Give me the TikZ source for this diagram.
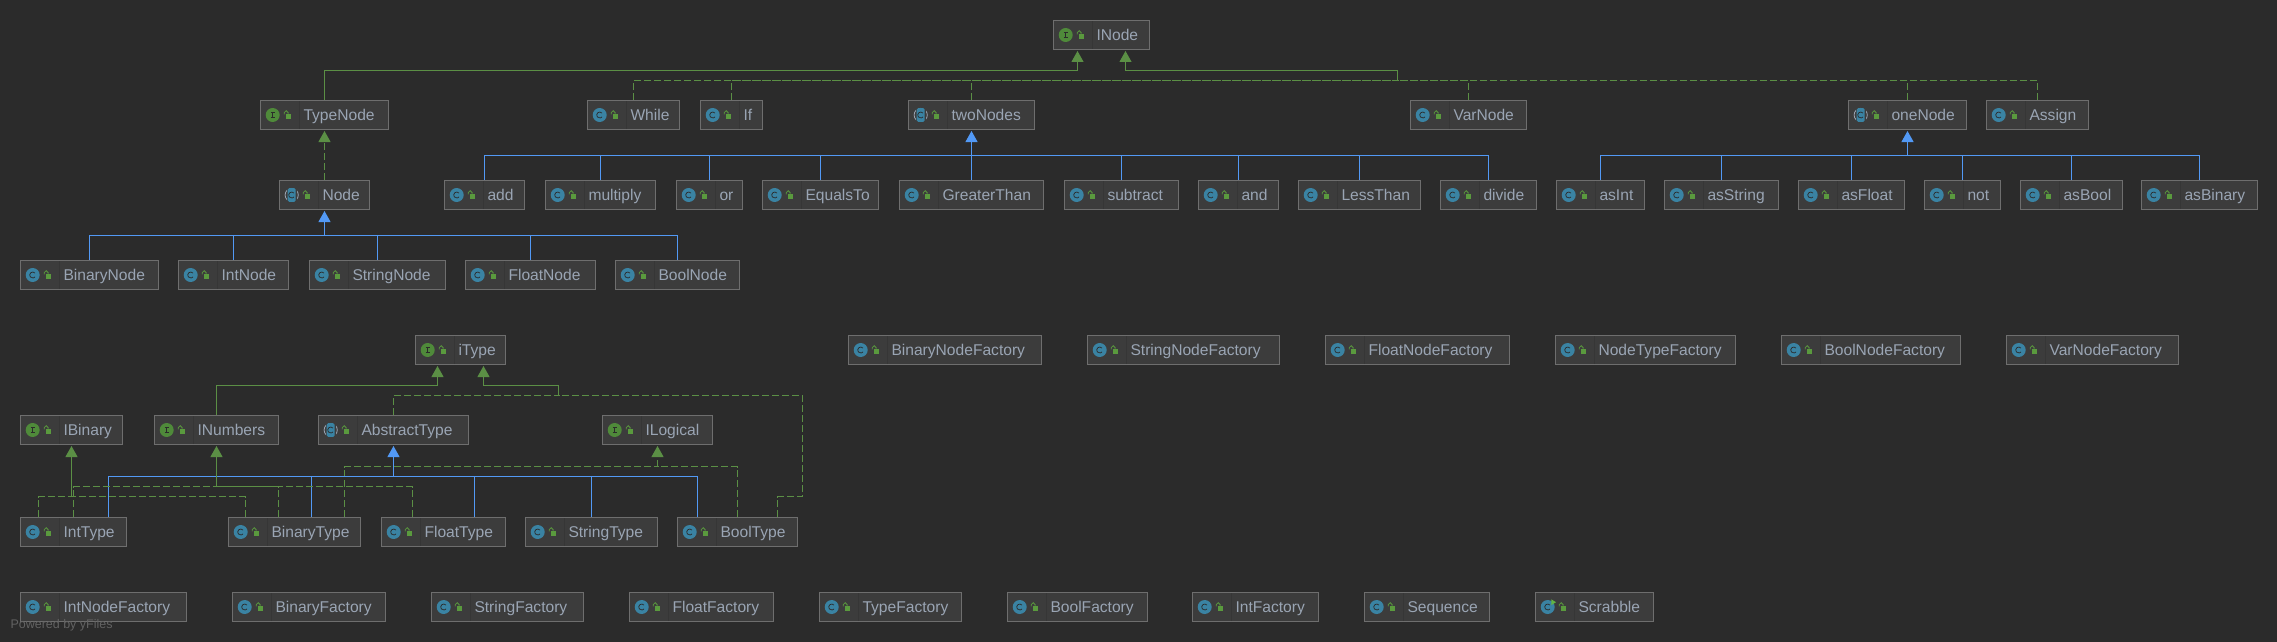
\documentclass[tikz,border=0pt]{standalone}
\usepackage{fontspec}
\setmainfont{Liberation Sans}
\usetikzlibrary{arrows.meta}

\definecolor{bgdark}{HTML}{2B2B2B}
\definecolor{boxfill}{HTML}{3C3C3C}
\definecolor{boxline}{HTML}{6E6E6E}
\definecolor{boxsep}{HTML}{363636}
\definecolor{labelgray}{HTML}{9AA5B4}
\definecolor{iconblue}{HTML}{3A83A3}
\definecolor{icongreen}{HTML}{4F8A3A}
\definecolor{lockgreen}{HTML}{5A9A3E}
\definecolor{rungreen}{HTML}{62B543}
\definecolor{linkgreen}{HTML}{5B8F45}
\definecolor{linkblue}{HTML}{5299F5}
\definecolor{yfilesgray}{HTML}{626262}

\tikzset{
    basebox/.style={draw=boxline,fill=boxfill,line width=1pt,minimum height=29pt,
        inner xsep=4pt,inner ysep=0pt,text width=#1pt-8pt,align=left,text=labelgray,
        font=\fontsize{15.6}{18}\selectfont,text height=11.2pt,text depth=0pt,
        execute at begin node=\hspace*{39pt}},
    iconlines/.style={x=1pt,y=1pt},
    greenlink/.style={draw=linkgreen,line width=1pt},
    dashlink/.style={greenlink,dash pattern=on 7pt off 3pt},
    bluelink/.style={draw=linkblue,line width=1pt},
    headed/.style={-{Triangle[length=11pt,width=12pt]},shorten >=1pt}
}

% icon column of a box, drawn with the middle of the box's left side as origin
\newcommand{\lockmark}{
    \draw[boxsep,line width=.8pt] (39,-14) -- (39,14);
    \fill[lockgreen] (25.7,-4) rectangle (31.4,1.3);
    \draw[lockgreen,line width=.8pt] (24.3,.6) -- (24.3,2.4) arc (180:0:1.9) -- (28.1,1.3);
}
\newcommand{\cmark}{
    \draw[bgdark,line width=.7pt] (15,1.9) arc (40:320:3);
}
\newcommand{\imark}{
    \draw[bgdark,line width=.9pt] (12.7,-2.8) -- (12.7,2.8) (10.9,2.8) -- (14.5,2.8) (10.9,-2.8) -- (14.5,-2.8);
}
% name, width, middle
\newcommand{\classnode}[3]{
    \node[basebox=#2] (#1) at (#3) {#1};
    \begin{scope}[iconlines,shift={(#1.west)}]
        \fill[iconblue] (12.7,0) circle (7);
        \cmark\lockmark
    \end{scope}
}
\newcommand{\ifacenode}[3]{
    \node[basebox=#2] (#1) at (#3) {#1};
    \begin{scope}[iconlines,shift={(#1.west)}]
        \fill[icongreen] (12.7,0) circle (7);
        \imark\lockmark
    \end{scope}
}
\newcommand{\abstractnode}[3]{
    \node[basebox=#2] (#1) at (#3) {#1};
    \begin{scope}[iconlines,shift={(#1.west)}]
        \draw[labelgray,line width=.8pt] (12.7,0) circle (6.6);
        \fill[boxfill] (7.7,-7.5) rectangle (17.7,7.5);
        \fill[iconblue,rounded corners=1.5pt] (8.7,-6.8) rectangle (16.7,6.8);
        \cmark\lockmark
    \end{scope}
}
\newcommand{\mainnode}[3]{
    \node[basebox=#2] (#1) at (#3) {#1};
    \begin{scope}[iconlines,shift={(#1.west)}]
        \fill[iconblue] (12.7,0) circle (7);
        \cmark\lockmark
        \fill[rungreen] (16.4,7.6) -- (21,4.8) -- (16.4,2) -- cycle;
    \end{scope}
}

\begin{document}
\begin{tikzpicture}[x=1pt,y=-1pt]
    \fill[bgdark] (0,0) rectangle (2277,642);
    \useasboundingbox (0,0) rectangle (2277,642);

    % upper tree
    \ifacenode{INode}{96}{1101.5,35}
    \ifacenode{TypeNode}{128}{324.5,115}
    \classnode{While}{92}{633.5,115}
    \classnode{If}{62}{731.5,115}
    \abstractnode{twoNodes}{126}{971.5,115}
    \classnode{VarNode}{116}{1468.5,115}
    \abstractnode{oneNode}{118}{1907.5,115}
    \classnode{Assign}{102}{2037.5,115}
    \abstractnode{Node}{90}{324.5,195}
    \classnode{add}{80}{484.5,195}
    \classnode{multiply}{110}{600.5,195}
    \classnode{or}{66}{709.5,195}
    \classnode{EqualsTo}{116}{820.5,195}
    \classnode{GreaterThan}{144}{971.5,195}
    \classnode{subtract}{114}{1121.5,195}
    \classnode{and}{80}{1238.5,195}
    \classnode{LessThan}{122}{1359.5,195}
    \classnode{divide}{96}{1488.5,195}
    \classnode{asInt}{88}{1600.5,195}
    \classnode{asString}{114}{1721.5,195}
    \classnode{asFloat}{106}{1851.5,195}
    \classnode{not}{76}{1962.5,195}
    \classnode{asBool}{102}{2071.5,195}
    \classnode{asBinary}{116}{2199.5,195}
    \classnode{BinaryNode}{138}{89.5,275}
    \classnode{IntNode}{110}{233.5,275}
    \classnode{StringNode}{136}{377.5,275}
    \classnode{FloatNode}{130}{530.5,275}
    \classnode{BoolNode}{124}{677.5,275}

    % type tree
    \ifacenode{iType}{90}{460.5,350}
    \ifacenode{IBinary}{102}{71.5,430}
    \ifacenode{INumbers}{124}{216.5,430}
    \abstractnode{AbstractType}{150}{393.5,430}
    \ifacenode{ILogical}{110}{657.5,430}
    \classnode{IntType}{106}{73.5,532}
    \classnode{BinaryType}{132}{294.5,532}
    \classnode{FloatType}{124}{443.5,532}
    \classnode{StringType}{132}{591.5,532}
    \classnode{BoolType}{120}{737.5,532}

    % factories
    \classnode{BinaryNodeFactory}{193}{945,350}
    \classnode{StringNodeFactory}{192}{1183.5,350}
    \classnode{FloatNodeFactory}{184}{1417.5,350}
    \classnode{NodeTypeFactory}{180}{1645.5,350}
    \classnode{BoolNodeFactory}{179}{1871,350}
    \classnode{VarNodeFactory}{172}{2092.5,350}
    \classnode{IntNodeFactory}{166}{103.5,607}
    \classnode{BinaryFactory}{153}{309,607}
    \classnode{StringFactory}{152}{507.5,607}
    \classnode{FloatFactory}{144}{701.5,607}
    \classnode{TypeFactory}{142}{890.5,607}
    \classnode{BoolFactory}{140}{1077.5,607}
    \classnode{IntFactory}{126}{1255.5,607}
    \classnode{Sequence}{125}{1427,607}
    \mainnode{Scrabble}{118}{1594.5,607}

    \coordinate (nodeLeft) at (1077.5,70.5);
    \coordinate (nodeRight) at (1125.5,70.5);
    \coordinate (nodeBus) at (1397.5,80.5);
    \coordinate (twoBus) at (971.5,155.5);
    \coordinate (oneBus) at (1907.5,155.5);
    \coordinate (kidBus) at (324.5,235.5);
    \coordinate (typeLeft) at (437.5,385.5);
    \coordinate (typeRight) at (483.5,385.5);
    \coordinate (typeBus) at (558.5,395.5);
    \coordinate (boolBend) at (802.5,496.5);
    \coordinate (logicBus) at (657.5,466.5);
    \coordinate (abstractBus) at (393.5,476.5);
    \coordinate (numberBus) at (216.5,486.5);
    \coordinate (binaryBus) at (71.5,496.5);

    % INode
    \draw[greenlink,headed] (TypeNode.north) |- (nodeLeft) -- ([xshift=-24pt]INode.south);
    \draw[greenlink,headed] (nodeBus) |- (nodeRight) -- ([xshift=24pt]INode.south);
    \draw[dashlink] (While.north) |- (nodeBus);
    \draw[dashlink] (If.north) |- (nodeBus);
    \draw[dashlink] (twoNodes.north) |- (nodeBus);
    \draw[dashlink] (VarNode.north) |- (nodeBus);
    \draw[dashlink] (oneNode.north) |- (nodeBus);
    \draw[dashlink] (Assign.north) |- (nodeBus);
    \draw[dashlink,headed] (Node.north) -- (TypeNode.south);

    % Node
    \draw[bluelink,headed] (kidBus) -- (Node.south);
    \draw[bluelink] (BinaryNode.north) |- (kidBus);
    \draw[bluelink] (IntNode.north) |- (kidBus);
    \draw[bluelink] (StringNode.north) |- (kidBus);
    \draw[bluelink] (FloatNode.north) |- (kidBus);
    \draw[bluelink] (BoolNode.north) |- (kidBus);

    % twoNodes
    \draw[bluelink,headed] (twoBus) -- (twoNodes.south);
    \draw[bluelink] (add.north) |- (twoBus);
    \draw[bluelink] (multiply.north) |- (twoBus);
    \draw[bluelink] (or.north) |- (twoBus);
    \draw[bluelink] (EqualsTo.north) |- (twoBus);
    \draw[bluelink] (GreaterThan.north) |- (twoBus);
    \draw[bluelink] (subtract.north) |- (twoBus);
    \draw[bluelink] (and.north) |- (twoBus);
    \draw[bluelink] (LessThan.north) |- (twoBus);
    \draw[bluelink] (divide.north) |- (twoBus);

    % oneNode
    \draw[bluelink,headed] (oneBus) -- (oneNode.south);
    \draw[bluelink] (asInt.north) |- (oneBus);
    \draw[bluelink] (asString.north) |- (oneBus);
    \draw[bluelink] (asFloat.north) |- (oneBus);
    \draw[bluelink] (not.north) |- (oneBus);
    \draw[bluelink] (asBool.north) |- (oneBus);
    \draw[bluelink] (asBinary.north) |- (oneBus);

    % iType
    \draw[greenlink,headed] (INumbers.north) |- (typeLeft) -- ([xshift=-23pt]iType.south);
    \draw[greenlink,headed] (typeBus) |- (typeRight) -- ([xshift=23pt]iType.south);
    \draw[dashlink] (AbstractType.north) |- (typeBus);
    \draw[dashlink] ([xshift=40pt]BoolType.north) |- (boolBend) |- (typeBus);

    % ILogical
    \draw[dashlink,headed] (logicBus) -- (ILogical.south);
    \draw[dashlink] ([xshift=50pt]BinaryType.north) |- (logicBus);
    \draw[dashlink] (BoolType.north) |- (logicBus);

    % AbstractType
    \draw[bluelink,headed] (abstractBus) -- (AbstractType.south);
    \draw[bluelink] ([xshift=35pt]IntType.north) |- (abstractBus);
    \draw[bluelink] ([xshift=17pt]BinaryType.north) |- (abstractBus);
    \draw[bluelink] ([xshift=31pt]FloatType.north) |- (abstractBus);
    \draw[bluelink] (StringType.north) |- (abstractBus);
    \draw[bluelink] ([xshift=-40pt]BoolType.north) |- (abstractBus);

    % INumbers
    \draw[greenlink,headed] (numberBus) -- (INumbers.south);
    \draw[dashlink] (IntType.north) |- (numberBus);
    \draw[dashlink] ([xshift=-16pt]BinaryType.north) |- (numberBus);
    \draw[dashlink] ([xshift=-31pt]FloatType.north) |- (numberBus);

    % IBinary
    \draw[greenlink,headed] (binaryBus) -- (IBinary.south);
    \draw[dashlink] ([xshift=-35pt]IntType.north) |- (binaryBus);
    \draw[dashlink] ([xshift=-49pt]BinaryType.north) |- (binaryBus);

    \node[text=yfilesgray,font=\fontsize{12.5}{14}\selectfont,anchor=west,inner sep=0pt] (poweredBy) at (10.3,625.7) {Powered by yFiles};
\end{tikzpicture}
\end{document}
